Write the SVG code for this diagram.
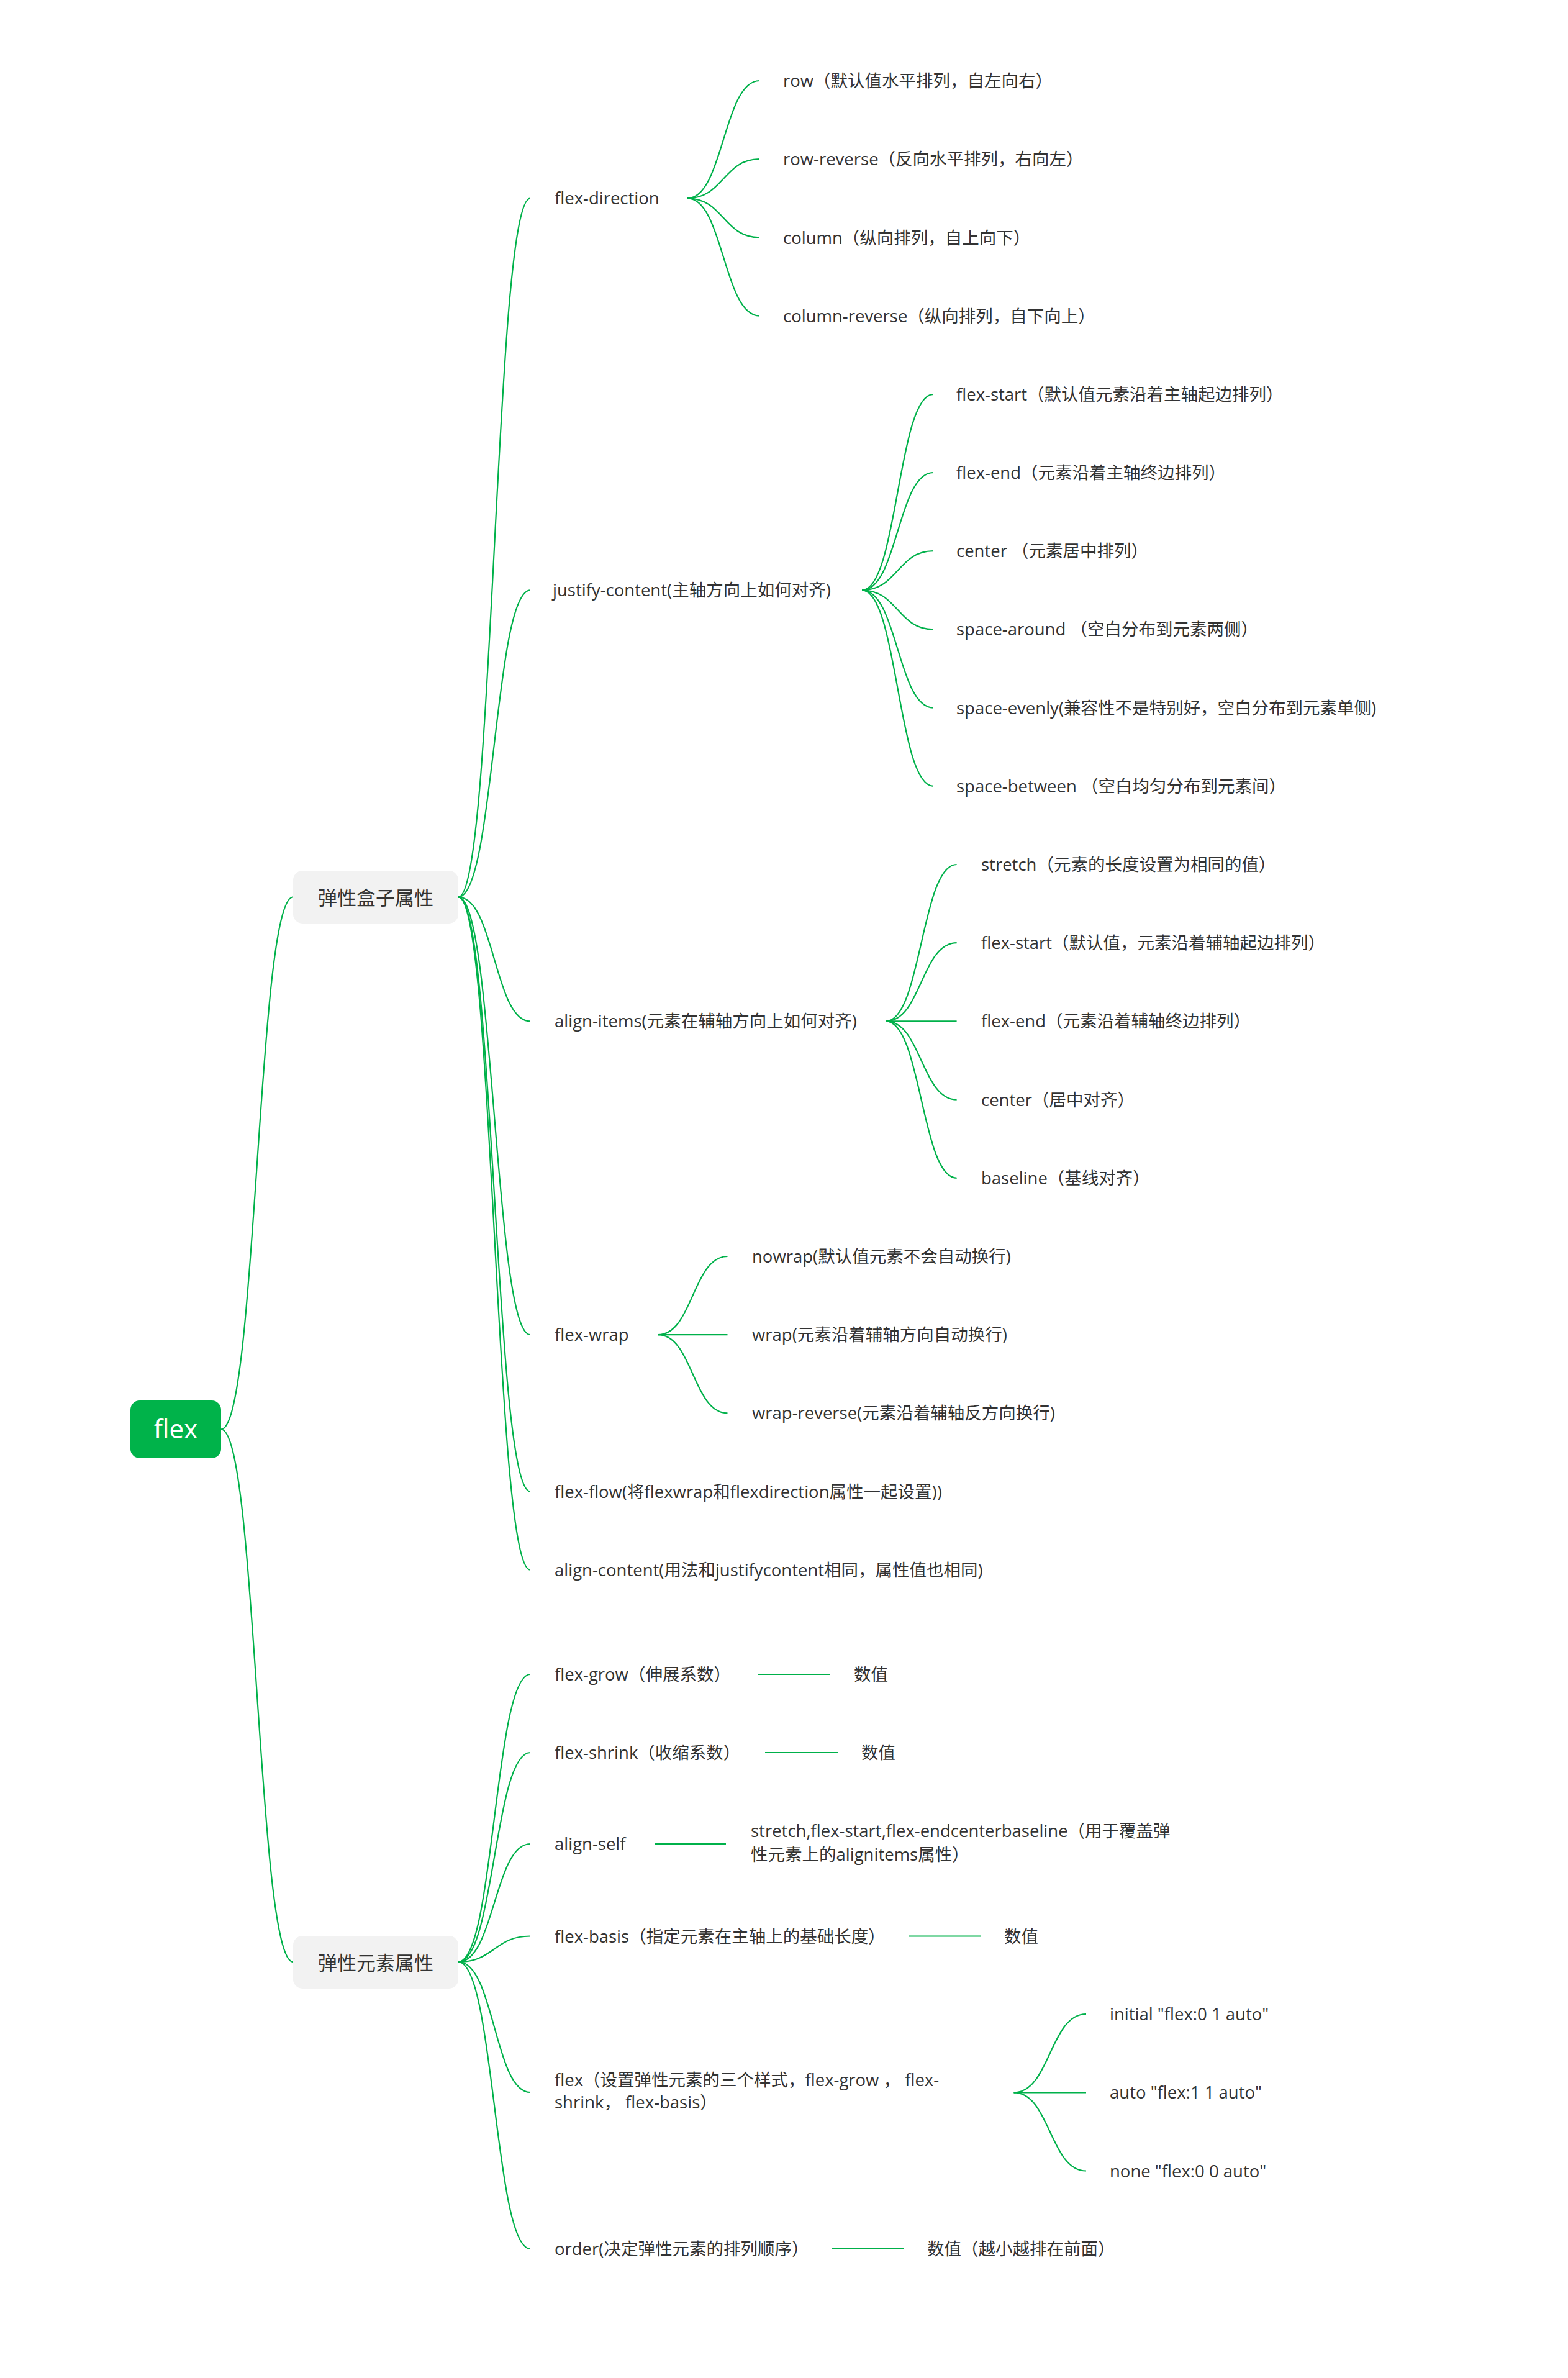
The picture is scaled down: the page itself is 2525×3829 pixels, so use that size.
<svg xmlns="http://www.w3.org/2000/svg" width="2525" height="3829" viewBox="0 0 2525 3829">
<style>
.c{fill:none;stroke:#00b14a;stroke-width:2.2}
.t{font-family:"Open Sans","Noto Sans CJK SC",sans-serif;font-size:27.5px;fill:#333333;dominant-baseline:central}
.t1{font-family:"Noto Sans CJK SC","Open Sans",sans-serif;font-size:31px;fill:#333333;dominant-baseline:central;text-anchor:middle}
.t0{font-family:"Open Sans","Noto Sans CJK SC",sans-serif;font-size:42px;fill:#ffffff;dominant-baseline:central;text-anchor:middle}
.b1{fill:#f2f2f2}
</style>
<rect width="2525" height="3829" fill="#ffffff"/>
<g id="connectors">
<path class="c" d="M356,2301.5 C414,2301.5 414,1444.5 472,1444.5"/>
<path class="c" d="M356,2301.5 C414,2301.5 414,3159 472,3159"/>
<path class="c" d="M738,1444.5 C796,1444.5 796,319.3 854,319.3"/>
<path class="c" d="M738,1444.5 C796,1444.5 796,950.3 854,950.3"/>
<path class="c" d="M738,1444.5 C796,1444.5 796,1644.4 854,1644.4"/>
<path class="c" d="M738,1444.5 C796,1444.5 796,2149.2 854,2149.2"/>
<path class="c" d="M738,1444.5 C796,1444.5 796,2401.6 854,2401.6"/>
<path class="c" d="M738,1444.5 C796,1444.5 796,2527.8 854,2527.8"/>
<path class="c" d="M1107,319.3 C1165,319.3 1165,130 1223,130"/>
<path class="c" d="M1107,319.3 C1165,319.3 1165,256.2 1223,256.2"/>
<path class="c" d="M1107,319.3 C1165,319.3 1165,382.4 1223,382.4"/>
<path class="c" d="M1107,319.3 C1165,319.3 1165,508.6 1223,508.6"/>
<path class="c" d="M1388,950.3 C1445.5,950.3 1445.5,634.8 1503,634.8"/>
<path class="c" d="M1388,950.3 C1445.5,950.3 1445.5,761 1503,761"/>
<path class="c" d="M1388,950.3 C1445.5,950.3 1445.5,887.2 1503,887.2"/>
<path class="c" d="M1388,950.3 C1445.5,950.3 1445.5,1013.4 1503,1013.4"/>
<path class="c" d="M1388,950.3 C1445.5,950.3 1445.5,1139.6 1503,1139.6"/>
<path class="c" d="M1388,950.3 C1445.5,950.3 1445.5,1265.8 1503,1265.8"/>
<path class="c" d="M1426.6,1644.4 C1483.6,1644.4 1483.6,1392 1540.6,1392"/>
<path class="c" d="M1426.6,1644.4 C1483.6,1644.4 1483.6,1518.2 1540.6,1518.2"/>
<path class="c" d="M1426.6,1644.4 L1540.6,1644.4"/>
<path class="c" d="M1426.6,1644.4 C1483.6,1644.4 1483.6,1770.6 1540.6,1770.6"/>
<path class="c" d="M1426.6,1644.4 C1483.6,1644.4 1483.6,1896.8 1540.6,1896.8"/>
<path class="c" d="M1059.5,2149.2 C1115.5,2149.2 1115.5,2023 1171.5,2023"/>
<path class="c" d="M1059.5,2149.2 L1171.5,2149.2"/>
<path class="c" d="M1059.5,2149.2 C1115.5,2149.2 1115.5,2275.4 1171.5,2275.4"/>
<path class="c" d="M738,3159 C796,3159 796,2696 854,2696"/>
<path class="c" d="M738,3159 C796,3159 796,2822 854,2822"/>
<path class="c" d="M738,3159 C796,3159 796,2969 854,2969"/>
<path class="c" d="M738,3159 C796,3159 796,3117.5 854,3117.5"/>
<path class="c" d="M738,3159 C796,3159 796,3369 854,3369"/>
<path class="c" d="M738,3159 C796,3159 796,3621 854,3621"/>
<path class="c" d="M1221,2696 L1337,2696"/>
<path class="c" d="M1232,2822 L1350,2822"/>
<path class="c" d="M1054.5,2969 L1169,2969"/>
<path class="c" d="M1464,3117.5 L1580,3117.5"/>
<path class="c" d="M1339,3621 L1455,3621"/>
<path class="c" d="M1632.6,3369.4 C1690.8,3369.4 1690.8,3243 1749,3243"/>
<path class="c" d="M1632.6,3369.4 L1749,3369.4"/>
<path class="c" d="M1632.6,3369.4 C1690.8,3369.4 1690.8,3495.5 1749,3495.5"/>
</g>
<g id="root"><rect x="210" y="2255" width="146" height="93" rx="15" fill="#00b34a"/><text class="t0" x="283" y="2299">flex</text></g>
<g id="box-props"><rect class="b1" x="472" y="1402" width="266" height="85" rx="15"/><text class="t1" x="605" y="1443.5">弹性盒子属性</text></g>
<g id="item-props"><rect class="b1" x="472" y="3117" width="266" height="85" rx="15"/><text class="t1" x="605" y="3158">弹性元素属性</text></g>
<g id="flex-direction"><text class="t" x="893" y="318.5">flex-direction</text></g>
<g id="fd-row"><text class="t" x="1261" y="129.5">row（默认值水平排列，自左向右）</text></g>
<g id="fd-row-reverse"><text class="t" x="1261" y="255.5">row-reverse（反向水平排列，右向左）</text></g>
<g id="fd-column"><text class="t" x="1261" y="382">column（纵向排列，自上向下）</text></g>
<g id="fd-column-reverse"><text class="t" x="1261" y="508">column-reverse（纵向排列，自下向上）</text></g>
<g id="justify-content"><text class="t" x="890" y="949.5">justify-content(主轴方向上如何对齐)</text></g>
<g id="jc-flex-start"><text class="t" x="1540" y="634">flex-start（默认值元素沿着主轴起边排列）</text></g>
<g id="jc-flex-end"><text class="t" x="1540" y="760.5">flex-end（元素沿着主轴终边排列）</text></g>
<g id="jc-center"><text class="t" x="1540" y="886.5">center （元素居中排列）</text></g>
<g id="jc-space-around"><text class="t" x="1540" y="1012.5">space-around （空白分布到元素两侧）</text></g>
<g id="jc-space-evenly"><text class="t" x="1540" y="1139">space-evenly(兼容性不是特别好，空白分布到元素单侧)</text></g>
<g id="jc-space-between"><text class="t" x="1540" y="1265">space-between （空白均匀分布到元素间）</text></g>
<g id="align-items"><text class="t" x="893" y="1643.5">align-items(元素在辅轴方向上如何对齐)</text></g>
<g id="ai-stretch"><text class="t" x="1580" y="1391.5">stretch（元素的长度设置为相同的值）</text></g>
<g id="ai-flex-start"><text class="t" x="1580" y="1517.5">flex-start（默认值，元素沿着辅轴起边排列）</text></g>
<g id="ai-flex-end"><text class="t" x="1580" y="1643.5">flex-end（元素沿着辅轴终边排列）</text></g>
<g id="ai-center"><text class="t" x="1580" y="1770">center（居中对齐）</text></g>
<g id="ai-baseline"><text class="t" x="1580" y="1896">baseline（基线对齐）</text></g>
<g id="flex-wrap"><text class="t" x="893" y="2148.5">flex-wrap</text></g>
<g id="fw-nowrap"><text class="t" x="1211" y="2022.5">nowrap(默认值元素不会自动换行)</text></g>
<g id="fw-wrap"><text class="t" x="1211" y="2148.5">wrap(元素沿着辅轴方向自动换行)</text></g>
<g id="fw-wrap-reverse"><text class="t" x="1211" y="2274.5">wrap-reverse(元素沿着辅轴反方向换行)</text></g>
<g id="flex-flow"><text class="t" x="893" y="2401">flex-flow(将flexwrap和flexdirection属性一起设置))</text></g>
<g id="align-content"><text class="t" x="893" y="2527">align-content(用法和justifycontent相同，属性值也相同)</text></g>
<g id="flex-grow"><text class="t" x="893" y="2695.5">flex-grow（伸展系数）</text></g>
<g id="flex-grow-value"><text class="t" x="1375" y="2695.5">数值</text></g>
<g id="flex-shrink"><text class="t" x="893" y="2821.5">flex-shrink（收缩系数）</text></g>
<g id="flex-shrink-value"><text class="t" x="1387" y="2821.5">数值</text></g>
<g id="align-self"><text class="t" x="893" y="2968.5">align-self</text></g>
<g id="align-self-value"><text class="t" x="1209" y="2947.5">stretch,flex-start,flex-endcenterbaseline（用于覆盖弹</text><text class="t" x="1209" y="2985">性元素上的alignitems属性）</text></g>
<g id="flex-basis"><text class="t" x="893" y="3117">flex-basis（指定元素在主轴上的基础长度）</text></g>
<g id="flex-basis-value"><text class="t" x="1617" y="3117">数值</text></g>
<g id="flex"><text class="t" x="893" y="3348.5">flex（设置弹性元素的三个样式，flex-grow ， flex-</text><text class="t" x="893" y="3384.5">shrink，  flex-basis）</text></g>
<g id="flex-initial"><text class="t" x="1787" y="3242.5">initial "flex:0 1 auto"</text></g>
<g id="flex-auto"><text class="t" x="1787" y="3368.5">auto "flex:1 1 auto"</text></g>
<g id="flex-none"><text class="t" x="1787" y="3495">none "flex:0 0 auto"</text></g>
<g id="order"><text class="t" x="893" y="3620.5">order(决定弹性元素的排列顺序）</text></g>
<g id="order-value"><text class="t" x="1493" y="3620.5">数值（越小越排在前面）</text></g>
</svg>
